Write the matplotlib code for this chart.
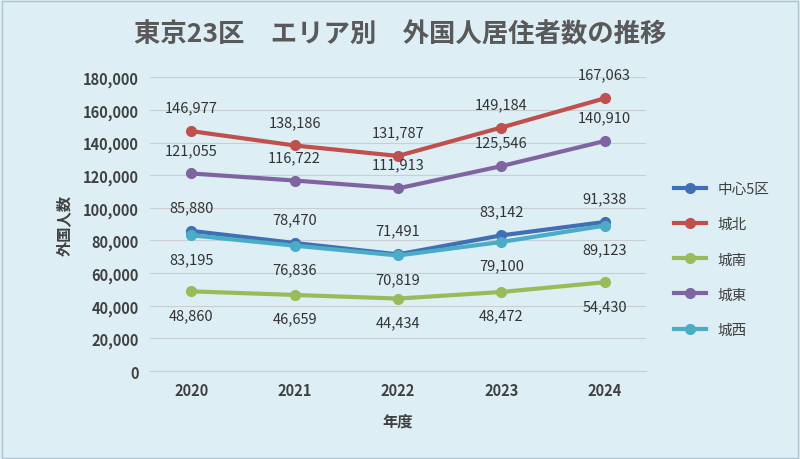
import matplotlib
matplotlib.use("Agg")
import matplotlib.pyplot as plt
from matplotlib.patches import Rectangle

plt.rcParams["font.family"] = ["Noto Sans CJK JP"]

years = ["2020", "2021", "2022", "2023", "2024"]
central5 = [85880, 78470, 71491, 83142, 91338]
johoku = [146977, 138186, 131787, 149184, 167063]
jonan = [48860, 46659, 44434, 48472, 54430]
joto = [121055, 116722, 111913, 125546, 140910]
josei = [83195, 76836, 70819, 79100, 89123]

series = [
    ("中心5区", central5, "#3F6FB5", "above"),
    ("城北", johoku, "#C0504D", "above"),
    ("城南", jonan, "#9BBB59", "below"),
    ("城東", joto, "#8064A2", "above"),
    ("城西", josei, "#4BACC6", "below"),
]

bg = "#DDEEF5"
fig = plt.figure(figsize=(8, 4.6), dpi=100, facecolor=bg)
fig.patches.append(Rectangle((0.002, 0.003), 0.995, 0.993, transform=fig.transFigure,
                             fill=False, edgecolor="#AFC4D0", linewidth=1))
ax = fig.add_axes([0.1875, 0.191, 0.62, 0.639], facecolor=bg)
x = list(range(len(years)))
for name, vals, col, pos in series:
    ax.plot(x, vals, color=col, linewidth=3, marker="o", markersize=7, label=name, zorder=3)
    for xi, v in zip(x, vals):
        off = 17 if pos == "above" else -17
        ax.annotate(f"{v:,}", (xi, v), xytext=(0, off), textcoords="offset points",
                    ha="center", va="center", fontsize=10.5, color="#333333")

ax.set_xlim(-0.4, 4.4)
ax.set_ylim(0, 180000)
ax.set_yticks(range(0, 180001, 20000))
ax.set_yticklabels([f"{v:,}" for v in range(0, 180001, 20000)], fontsize=10.5,
                   color="#404040", fontweight="bold")
ax.set_xticks(x)
ax.set_xticklabels(years, fontsize=10.5, color="#404040", fontweight="bold")
ax.grid(axis="y", color="#C8CED2", linewidth=0.8)
ax.set_axisbelow(True)
for s in ax.spines.values():
    s.set_visible(False)
ax.spines["bottom"].set_visible(True)
ax.spines["bottom"].set_color("#C8CED2")
ax.tick_params(length=0, pad=8)
ax.set_xlabel("年度", fontsize=11, color="#404040", fontweight="bold", labelpad=10)
ax.set_ylabel("外国人数", fontsize=11, color="#404040", fontweight="bold", labelpad=8)

fig.text(0.5, 0.925, "東京23区　エリア別　外国人居住者数の推移", ha="center", va="center",
         fontsize=19, fontweight="bold", color="#595959")
ax.legend(loc="center left", bbox_to_anchor=(1.03, 0.38), frameon=False, fontsize=10.5,
          labelspacing=1.45, handlelength=2.2, labelcolor="#404040")
fig.savefig("out.png", dpi=100, facecolor=bg)
